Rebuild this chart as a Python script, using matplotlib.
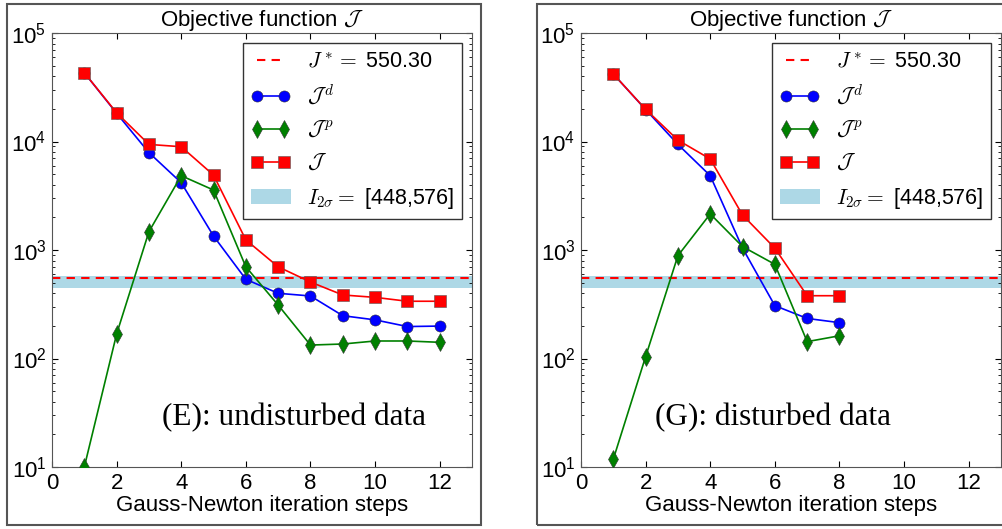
import numpy as np
import matplotlib
matplotlib.use('Agg')
import matplotlib.pyplot as plt
from matplotlib.patches import Rectangle, Patch
from matplotlib.lines import Line2D

plt.rcParams['font.family'] = ['Liberation Sans', 'DejaVu Sans']
plt.rcParams['mathtext.fontset'] = 'cm'

# Daten: links (E) ungestoert, rechts (G) gestoert
steps_E = [1, 2, 3, 4, 5, 6, 7, 8, 9, 10, 11, 12]
Jd_E = [43000, 18200, 7900, 4170, 1345, 537, 399, 377, 248, 227, 197, 199]
Jp_E = [10, 168, 1475, 4840, 3570, 700, 311, 133, 136, 145, 145, 141]
J_E = [43000, 18400, 9400, 8950, 4900, 1240, 700, 507, 385, 366, 337, 337]

steps_G = [1, 2, 3, 4, 5, 6, 7, 8]
Jd_G = [41900, 19700, 9400, 4840, 1040, 307, 234, 214]
Jp_G = [11.8, 104, 887, 2150, 1075, 738, 143, 162]
J_G = [41900, 19800, 10300, 6900, 2100, 1040, 379, 379]

J_star = 550.30
band = [448, 576]
titles = ['(E): undisturbed data', '(G): disturbed data']

fig = plt.figure(figsize=(10.03, 5.29), dpi=100)

# Rahmen um jedes Teilbild
fig.patches.append(Rectangle((7/1003, 4/529), 474/1003, 521/529, transform=fig.transFigure,
                             fill=False, edgecolor='#555555', lw=1.5))
fig.patches.append(Rectangle((537/1003, 4/529), 480/1003, 521/529, transform=fig.transFigure,
                             fill=False, edgecolor='#555555', lw=1.5))

data = [(steps_E, Jd_E, Jp_E, J_E), (steps_G, Jd_G, Jp_G, J_G)]
lefts = [52/1003, 581/1003]
text_x = [0.576, 0.457]

for k in range(2):
    steps, Jd, Jp, J = data[k]
    ax = fig.add_axes([lefts[k], 62/529, 420/1003, 434/529])
    ax.axhspan(band[0], band[1], color='lightblue', lw=0, zorder=1)
    ax.axhline(J_star, color='red', ls='--', lw=1.5, dashes=(4, 3), zorder=2)
    ax.plot(steps, Jd, '-o', color='blue', ms=8, mec='#333333', mew=0.4, lw=1.2, zorder=3)
    ax.plot(steps, Jp, '-d', color='green', ms=9, mec='#333333', mew=0.4, lw=1.2, zorder=3)
    ax.plot(steps, J, '-s', color='red', ms=8, mec='#555555', mew=0.4, lw=1.2, zorder=4)
    ax.set_yscale('log')
    ax.set_ylim(10, 1e5)
    ax.set_xlim(0, 13)
    ax.set_xticks([0, 2, 4, 6, 8, 10, 12])
    ax.tick_params(which='both', direction='in', top=True, right=True, labelsize=16)
    ax.tick_params(axis='x', pad=4)
    ax.tick_params(axis='y', pad=4)
    ax.tick_params(which='major', length=4)
    ax.tick_params(which='minor', length=2)
    for s in ax.spines.values():
        s.set_color('#555555')
    ax.set_title(r'Objective function $\mathcal{J}$', fontsize=16, pad=2)
    ax.set_xlabel('Gauss-Newton iteration steps', fontsize=16, labelpad=1)
    ax.text(text_x[k], 0.097, titles[k], transform=ax.transAxes, ha='center', va='baseline',
            fontsize=22.5, family=['Liberation Serif', 'DejaVu Serif'])

    handles = [
        Line2D([], [], color='red', ls='--', lw=1.5, dashes=(4, 3)),
        Line2D([], [], color='blue', marker='o', ms=8, mec='#333333', mew=0.4, lw=1.2),
        Line2D([], [], color='green', marker='d', ms=9, mec='#333333', mew=0.4, lw=1.2),
        Line2D([], [], color='red', marker='s', ms=8, mec='#555555', mew=0.4, lw=1.2),
        Patch(color='lightblue', lw=0),
    ]
    labels = [r'$J^*=$ 550.30', r'$\mathcal{J}^{\,d}$', r'$\mathcal{J}^{\,p}$',
              r'$\mathcal{J}$', r'$I_{2\sigma}=$ [448,576]']
    leg = ax.legend(handles, labels, loc='upper right', fontsize=15.5, numpoints=2,
                    fancybox=False, framealpha=1, edgecolor='#333333', borderaxespad=0.46,
                    labelspacing=0.56, handlelength=1.86, handletextpad=0.75, borderpad=0.38)
    leg.get_frame().set_linewidth(1.0)

fig.savefig('out.png', dpi=100)
